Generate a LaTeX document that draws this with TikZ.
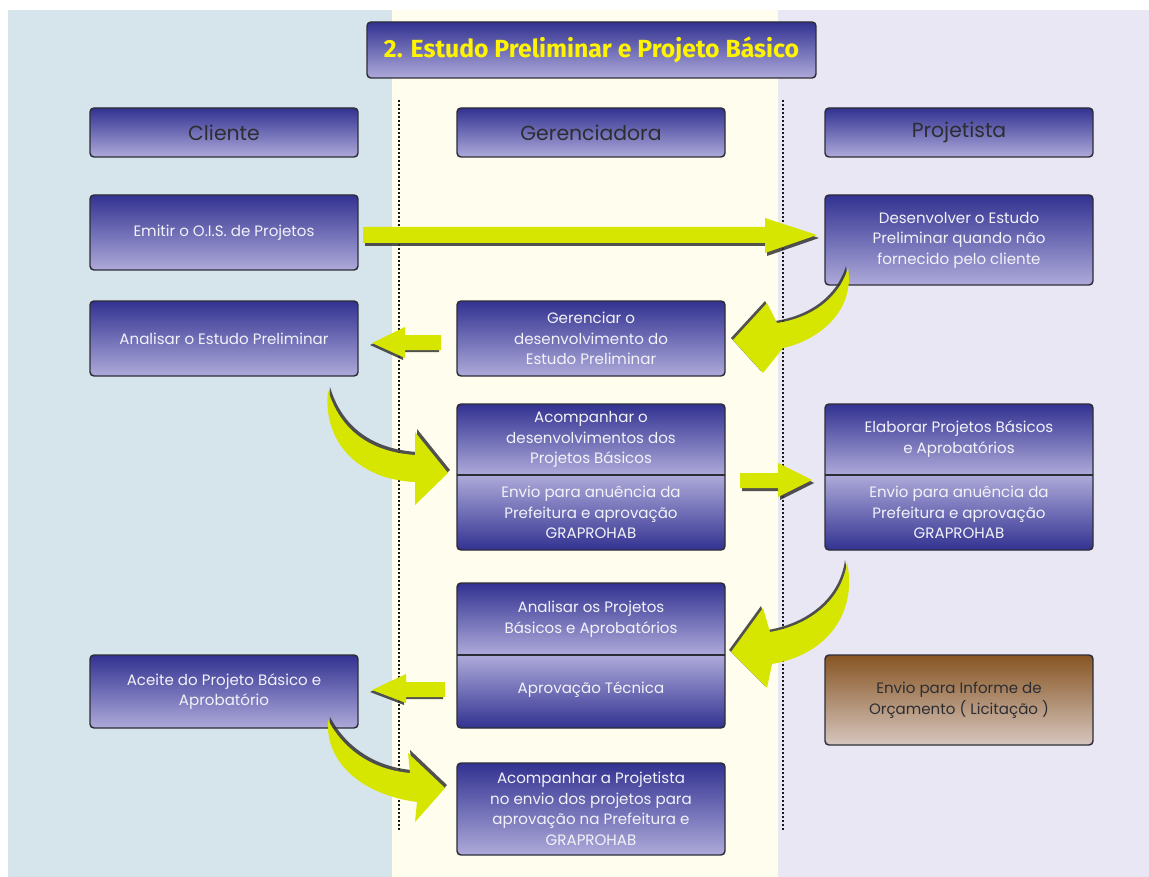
\documentclass[tikz,border=0pt]{standalone}
\usepackage{fontspec}
\setmainfont{Poppins}
\newfontfamily\headfont{Fira Sans}
\usetikzlibrary{fit}

\definecolor{bgblue}{RGB}{214,228,236}
\definecolor{bgcream}{RGB}{254,253,238}
\definecolor{bglav}{RGB}{233,231,244}
\definecolor{boxtop}{RGB}{50,50,145}
\definecolor{boxmid}{RGB}{112,108,185}
\definecolor{boxbot}{RGB}{174,170,218}
\definecolor{browntop}{RGB}{135,85,35}
\definecolor{brownmid}{RGB}{176,142,112}
\definecolor{brownbot}{RGB}{214,198,190}
\definecolor{arrowyel}{RGB}{214,230,0}
\definecolor{titleyel}{RGB}{255,244,0}
\definecolor{edge}{RGB}{45,45,55}
\definecolor{headtext}{RGB}{45,45,50}
\definecolor{boxtext}{RGB}{242,242,248}

% shadowed block arrow: #1 = shadow offset, #2 = outline path
\newcommand\blockarrow[2]{%
  \fill[arrowshade, shift={#1}] #2;
  \fill[arrowbody] #2;}

\begin{document}
\begin{tikzpicture}[x=0.75pt, y=-0.75pt,
  edgeline/.style={draw=edge, line width=1.1pt},
  bluebox/.style={edgeline, rounded corners=3pt, inner sep=0pt,
    top color=boxtop, middle color=boxmid, bottom color=boxbot},
  brownbox/.style={edgeline, rounded corners=3pt, inner sep=0pt,
    top color=browntop, middle color=brownmid, bottom color=brownbot},
  headlabel/.style={text=headtext, font=\fontsize{15.3}{17}\selectfont},
  boxlabel/.style={text=boxtext, align=center, inner sep=0pt,
    font=\fontsize{11.3}{15.4}\selectfont},
  darklabel/.style={boxlabel, text=headtext},
  lanesep/.style={draw=black!90, line width=2.2pt, dash pattern=on 1.5pt off 1.5pt},
  arrowbody/.style={fill=arrowyel},
  arrowshade/.style={fill=black!80, opacity=0.85},
]
\useasboundingbox (0,0) rectangle (1149,877);

% lanes
\fill[white] (0,0) rectangle (1149,877);
\fill[bgblue]  (8,10) rectangle (392,877);
\fill[bgcream] (392,10) rectangle (778,877);
\fill[bglav]   (778,10) rectangle (1149,877);
\draw[lanesep] (399,100) -- (399,832);
\draw[lanesep] (783,100) -- (783,832);

% title
\node[bluebox, fit={(367,22) (816,78)}] (title) {};
\node[text=titleyel, font=\headfont\bfseries\fontsize{18.6}{20}\selectfont] at (title.center) {2. Estudo Preliminar e Projeto Básico};

% lane headers
\node[bluebox, fit={(90,108) (358,157)}] (cli) {};
\node[headlabel] at (cli.center) {Cliente};
\node[bluebox, fit={(457,108) (725,157)}] (ger) {};
\node[headlabel] at (ger.center) {Gerenciadora};
\node[bluebox, fit={(825,108) (1093,157)}] (proj) {};
\node[headlabel] at (proj.center) {Projetista};

% single boxes
\node[bluebox, fit={(90,195) (358,270)}] (emit) {};
\node[boxlabel] at (emit.center) {Emitir o O.I.S. de Projetos};

\node[bluebox, fit={(825,195) (1093,285)}] (desenv) {};
\node[boxlabel] at (desenv.center) {Desenvolver o Estudo\\Preliminar quando não\\fornecido pelo cliente};

\node[bluebox, fit={(90,301) (358,376)}] (analep) {};
\node[boxlabel] at (analep.center) {Analisar o Estudo Preliminar};

\node[bluebox, fit={(457,301) (725,376)}] (gerenc) {};
\node[boxlabel] at (gerenc.center) {Gerenciar o\\desenvolvimento do\\Estudo Preliminar};

\node[bluebox, fit={(90,655) (358,728)}] (aceite) {};
\node[boxlabel] at (aceite.center) {Aceite do Projeto Básico e\\Aprobatório};

\node[brownbox, fit={(825,655) (1093,745)}] (orcam) {};
\node[darklabel] at (orcam.center) {Envio para Informe de\\Orçamento ( Licitação )};

\node[bluebox, fit={(457,763) (725,855)}] (acproj) {};
\node[boxlabel] at (acproj.center) {Acompanhar a Projetista\\no envio dos projetos para\\aprovação na Prefeitura e\\GRAPROHAB};

% split boxes: upper part shaded downwards, lower part shaded upwards
\foreach \xa/\xb/\ya/\ym/\yb in {457/725/404/475/550, 825/1093/404/475/550, 457/725/583/655/728}{
  \begin{scope}
    \clip[rounded corners=3pt] (\xa,\ya) rectangle (\xb,\yb);
    \shade[top color=boxtop, middle color=boxmid, bottom color=boxbot] (\xa,\ya) rectangle (\xb,\ym);
    \shade[top color=boxbot, middle color=boxmid, bottom color=boxtop] (\xa,\ym) rectangle (\xb,\yb);
  \end{scope}
  \draw[edgeline, rounded corners=3pt] (\xa,\ya) rectangle (\xb,\yb);
  \draw[edgeline] (\xa,\ym) -- (\xb,\ym);
}
\node[boxlabel] (acomp) at (591,439.5) {Acompanhar o\\desenvolvimentos dos\\Projetos Básicos};
\node[boxlabel] (acompenv) at (591,512.5) {Envio para anuência da\\Prefeitura e aprovação\\GRAPROHAB};
\node[boxlabel] (elab) at (959,439) {Elaborar Projetos Básicos\\e Aprobatórios};
\node[boxlabel] (elabenv) at (959,512.5) {Envio para anuência da\\Prefeitura e aprovação\\GRAPROHAB};
\node[boxlabel] (analpb) at (591,619) {Analisar os Projetos\\Básicos e Aprobatórios};
\node[boxlabel] (aprov) at (591,690) {Aprovação Técnica};

% straight block arrows
\blockarrow{(2,3)}{(363,227) -- (765,227) -- (765,218) -- (817,235) -- (765,253) -- (765,243) -- (363,243) -- cycle}
\blockarrow{(-2,2)}{(441,335) -- (405,335) -- (405,327) -- (372,343) -- (405,358) -- (405,350) -- (441,350) -- cycle}
\blockarrow{(2,3)}{(740,473) -- (778,473) -- (778,463) -- (812,480) -- (778,497) -- (778,488) -- (740,488) -- cycle}
\blockarrow{(-2,2)}{(445,682) -- (406,682) -- (406,674) -- (372,690) -- (406,703) -- (406,697) -- (445,697) -- cycle}

% curved block arrows
\blockarrow{(-2,-2)}{(848,268) .. controls (838,300) and (810,318) .. (777,323) -- (767,303) -- (733,340) -- (763,373) -- (783,348) .. controls (820,340) and (855,310) .. (848,268) -- cycle}
\blockarrow{(2,-3)}{(328,390) .. controls (340,430) and (370,452) .. (415,455) -- (415,432) -- (448,473) -- (415,505) -- (415,482) .. controls (362,480) and (322,445) .. (328,390) -- cycle}
\blockarrow{(-2,-2)}{(847,562) .. controls (842,600) and (810,625) .. (770,632) -- (763,608) -- (731,652) -- (767,688) -- (772,664) .. controls (825,655) and (858,615) .. (847,562) -- cycle}
\blockarrow{(2,-3)}{(328,720) .. controls (345,752) and (375,770) .. (410,773) -- (408,753) -- (445,788) -- (415,822) -- (417,802) .. controls (365,795) and (325,765) .. (328,720) -- cycle}
\end{tikzpicture}
\end{document}
